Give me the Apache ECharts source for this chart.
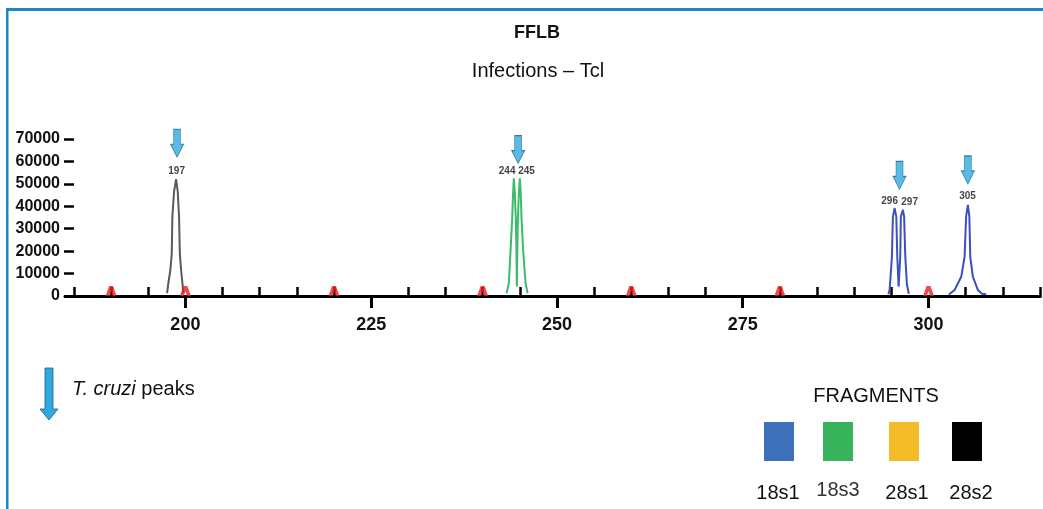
<!DOCTYPE html>
<html>
<head>
<meta charset="utf-8">
<script src="https://cdn.jsdelivr.net/npm/echarts@6/dist/echarts.min.js"></script>
<style>
html,body{margin:0;padding:0;background:#fff;}
#c{width:1043px;height:509px;}
</style>
</head>
<body>
<div id="c"></div>
<script>
// ---- data ----
const titleText = 'FFLB';
const subtitleText = 'Infections – Tcl';
const xMajorTicks = [200, 225, 250, 275, 300];
const xMinorTicks = [185, 190, 195, 205, 210, 215, 220, 230, 235, 240, 245, 255, 260, 265, 270, 280, 285, 290, 295, 305, 310, 315];
// 28s2 trace (peak 197)
const trace28s2 = [[197.54,1300],[197.71,5800],[197.98,11600],[198.17,19200],[198.25,35400],[198.48,46600],[198.75,52100],[198.97,46600],[199.15,35400],[199.25,19200],[199.42,11600],[199.6,5800],[199.73,1300]];
// 18s3 trace (peaks 244, 245)
const trace18s3 = [[243.22,1200],[243.53,5700],[243.76,20500],[243.97,33900],[244.1,46000],[244.2,52500],[244.33,46000],[244.47,33900],[244.55,20500],[244.61,4200],[244.67,20500],[244.74,33900],[244.88,46000],[245.01,52500],[245.13,46000],[245.24,33900],[245.45,20500],[245.78,5700],[246.05,1200]];
// 18s1 traces (peaks 296, 297 and 305)
const trace18s1a = [[294.6,800],[294.77,2700],[295.08,17500],[295.21,35400],[295.44,39100],[295.67,35400],[295.8,17500],[295.98,4200],[296.2,17500],[296.28,35400],[296.56,38400],[296.72,35400],[296.88,17500],[297.1,5000],[297.36,1000]];
const trace18s1b = [[302.74,700],[303.51,2700],[304.41,8600],[304.86,17500],[305.06,35400],[305.3,40600],[305.5,35400],[305.62,17500],[305.97,8600],[306.64,2700],[307.2,1000],[307.77,800]];
// size-standard ladder (red markers)
const ladder = [190, 200, 220, 240, 260, 280, 300];
// T. cruzi arrows
const arrowX = [198.88, 244.78, 296.1, 305.3];
const arrowY = [68100, 65300, 53800, 56200];
// peak size labels
const peakLabelText = ['197', '244', '245', '296', '297', '305'];
const peakLabelX = [198.82, 243.30, 245.90, 294.77, 297.46, 305.26];
const peakLabelY = [55600, 55800, 55800, 42400, 41900, 44600];
// fragments legend
const fragmentNames = ['18s1', '18s3', '28s1', '28s2'];
const fragmentColors = ['#3d6fbb', '#36b35b', '#f5bc29', '#000000'];

// ---- chart ----
const chart = echarts.init(document.getElementById('c'));
const FONT = '"Liberation Sans", Arial, sans-serif';
const arrowPath = 'path://M3,0 L10,0 L10,15 L13,15 L6.5,28 L0,15 L3,15 Z';
const caretPath = 'path://M0,10 L3.2,0 L6.8,0 L10,10 L6.6,10 L5,5.2 L3.4,10 Z';

const swatchX = [764, 823, 889, 952];
const labelCX = [778, 838, 907, 971];
const legendGraphics = [];
fragmentNames.forEach((n, i) => {
  legendGraphics.push({type:'rect', shape:{x:swatchX[i], y:422, width:30, height:39}, style:{fill:fragmentColors[i]}});
  legendGraphics.push({type:'text', x:labelCX[i], y:i===1?490:493, style:{text:n, font:'20px ' + FONT, fill:i===1?'#333':'#111', textAlign:'center', textVerticalAlign:'middle'}});
});

const option = {
  animation: false,
  backgroundColor: '#fff',
  grid: {left: 65, right: 2.6, top: 139, bottom: 213, containLabel: false},
  xAxis: [{
    type: 'value', min: 183.8, max: 315.06,
    axisLine: {show: true, lineStyle: {color: '#000', width: 3}},
    axisTick: {show: true, inside: false, length: 12, lineStyle: {color:'#000', width: 3}, customValues: xMajorTicks},
    axisLabel: {show: true, margin: 20, fontFamily: FONT, fontWeight: 'bold', fontSize: 18, color: '#111', customValues: xMajorTicks},
    splitLine: {show: false}
  }, {
    type: 'value', min: 183.8, max: 315.06, position: 'bottom',
    axisLine: {show: false},
    axisTick: {show: true, inside: true, length: 9, lineStyle: {color:'#000', width: 2.5}, customValues: xMinorTicks},
    axisLabel: {show: false},
    splitLine: {show: false}
  }],
  yAxis: {
    type: 'value', min: 0, max: 70000, interval: 10000, offset: -9,
    axisLine: {show: false},
    axisTick: {show: true, inside: false, length: 10, lineStyle: {color:'#000', width: 2.5}},
    axisLabel: {margin: 14, fontFamily: FONT, fontWeight: 'bold', fontSize: 16, color: '#111', formatter: v => String(v)},
    splitLine: {show: false}
  },
  series: [
    {type:'line', name:'28s2', data: trace28s2, showSymbol:false, lineStyle:{color:'#5a5a5a', width:2}, z:3},
    {type:'line', name:'18s3', data: trace18s3, showSymbol:false, lineStyle:{color:'#3dbb6a', width:2}, z:3},
    {type:'line', name:'18s1', data: trace18s1a, showSymbol:false, lineStyle:{color:'#3c50c0', width:2}, z:3},
    {type:'line', name:'18s1', data: trace18s1b, showSymbol:false, lineStyle:{color:'#3c50c0', width:2}, z:3},
    {type:'scatter', name:'ladder', data: ladder.map(v => [v, 0]), symbol: caretPath, symbolSize:[11,10], symbolOffset:[0,-5], itemStyle:{color:'#ee1c1c'}, z:4, clip:false},
    {type:'scatter', name:'arrows', data: arrowX.map((x,i) => [x, arrowY[i]]), symbol: arrowPath, symbolSize:[13,28], itemStyle:{color:'#2eaadf', borderColor:'#1d5f86', borderWidth:0.8}, z:5, clip:false},
    {type:'scatter', name:'sizes', data: peakLabelText.map((t,i) => ({name:t, value:[peakLabelX[i], peakLabelY[i]]})), symbolSize:0, clip:false, z:5,
      label:{show:true, position:'inside', formatter: p => p.name, fontFamily: FONT, fontWeight:'bold', fontSize:10, color:'#111'}}
  ],
  graphic: [
    {type:'rect', shape:{x:6, y:8, width:1037, height:3}, style:{fill:'#1e86c4'}},
    {type:'rect', shape:{x:6, y:8, width:2.5, height:501}, style:{fill:'#1e86c4'}},
    {type:'text', x:537, y:33, style:{text:titleText, font:'bold 18px ' + FONT, fill:'#111', textAlign:'center', textVerticalAlign:'middle'}},
    {type:'text', x:538, y:71, style:{text:subtitleText, font:'20px ' + FONT, fill:'#111', textAlign:'center', textVerticalAlign:'middle'}},
    {type:'polygon', shape:{points:[[45,368],[53,368],[53,409],[58,409],[49,420],[40,409],[45,409]]}, style:{fill:'#2eaadf', stroke:'#1d5f86', lineWidth:0.8}},
    {type:'text', x:72, y:389, style:{text:'{i|T. cruzi} peaks', font:'20px ' + FONT, fill:'#111', textVerticalAlign:'middle',
      rich:{i:{fontStyle:'italic', fontSize:20, fontFamily: FONT, fill:'#111'}}}},
    {type:'text', x:876, y:396, style:{text:'FRAGMENTS', font:'20px ' + FONT, fill:'#111', textAlign:'center', textVerticalAlign:'middle'}}
  ].concat(legendGraphics)
};
chart.setOption(option);
</script>
</body>
</html>
